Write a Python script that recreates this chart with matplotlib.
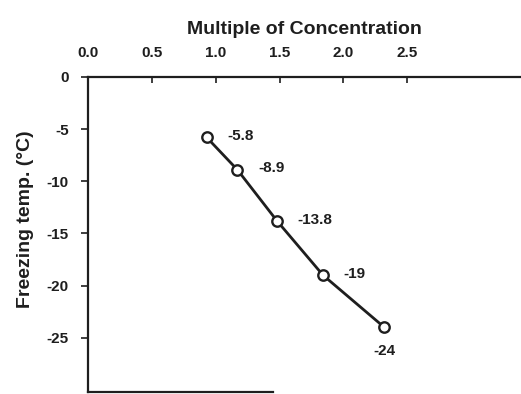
import matplotlib.pyplot as plt

plt.rcParams['font.family'] = ['Liberation Sans', 'DejaVu Sans']
plt.rcParams['font.weight'] = 'bold'
plt.rcParams['axes.labelweight'] = 'bold'

# data
multiple = [0.93, 1.17, 1.48, 1.84, 2.32]
freeze_temp = [-5.8, -8.9, -13.8, -19, -24]
point_labels = ['-5.8', '-8.9', '-13.8', '-19', '-24']
x_ticks = [0.0, 0.5, 1.0, 1.5, 2.0, 2.5]
y_ticks = [0, -5, -10, -15, -20, -25]

ink = '#1e1e1e'

fig = plt.figure(figsize=(5.21, 3.94), dpi=100)
ax = fig.add_axes([88 / 521, 1 - 392 / 394, 1 - 88 / 521, (392 - 77) / 394])

ax.plot(multiple, freeze_temp, '-o', color=ink, lw=2.0,
        markersize=7.5, markerfacecolor='white', markeredgecolor=ink, markeredgewidth=1.7,
        clip_on=False, zorder=3)

# value labels: right of each point, last one below
for i, (x, y, s) in enumerate(zip(multiple, freeze_temp, point_labels)):
    if i == len(multiple) - 1:
        ax.annotate(s, (x, y), xytext=(0, -12), textcoords='offset points',
                    ha='center', va='top', fontsize=11, color=ink)
    else:
        ax.annotate(s, (x, y), xytext=(15, 1), textcoords='offset points',
                    ha='left', va='center', fontsize=11, color=ink)

ax.set_xlim(0, 3.39)
ax.set_ylim(-30.2, 0)

ax.xaxis.set_ticks_position('top')
ax.xaxis.set_label_position('top')
ax.set_xticks(x_ticks)
ax.set_xticklabels(['%.1f' % t for t in x_ticks])
ax.set_yticks(y_ticks)
ax.set_yticklabels([str(t) for t in y_ticks])

ax.tick_params(axis='x', direction='in', length=4, width=1.2, pad=12,
               labelsize=11, colors=ink)
ax.tick_params(axis='y', direction='out', length=5, width=1.2, pad=9,
               labelsize=11, colors=ink)

ax.set_xlabel('Multiple of Concentration', fontsize=14, fontweight='bold',
              labelpad=9, color=ink)
ax.set_ylabel('Freezing temp. (°C)', fontsize=14, fontweight='bold', color=ink)
ax.yaxis.set_label_coords(-0.125, 0.55)

for side in ['top', 'left', 'bottom']:
    ax.spines[side].set_color(ink)
    ax.spines[side].set_linewidth(1.6)
ax.spines['right'].set_visible(False)
ax.spines['bottom'].set_bounds(0, 1.45)

fig.savefig('out.png', dpi=100)
